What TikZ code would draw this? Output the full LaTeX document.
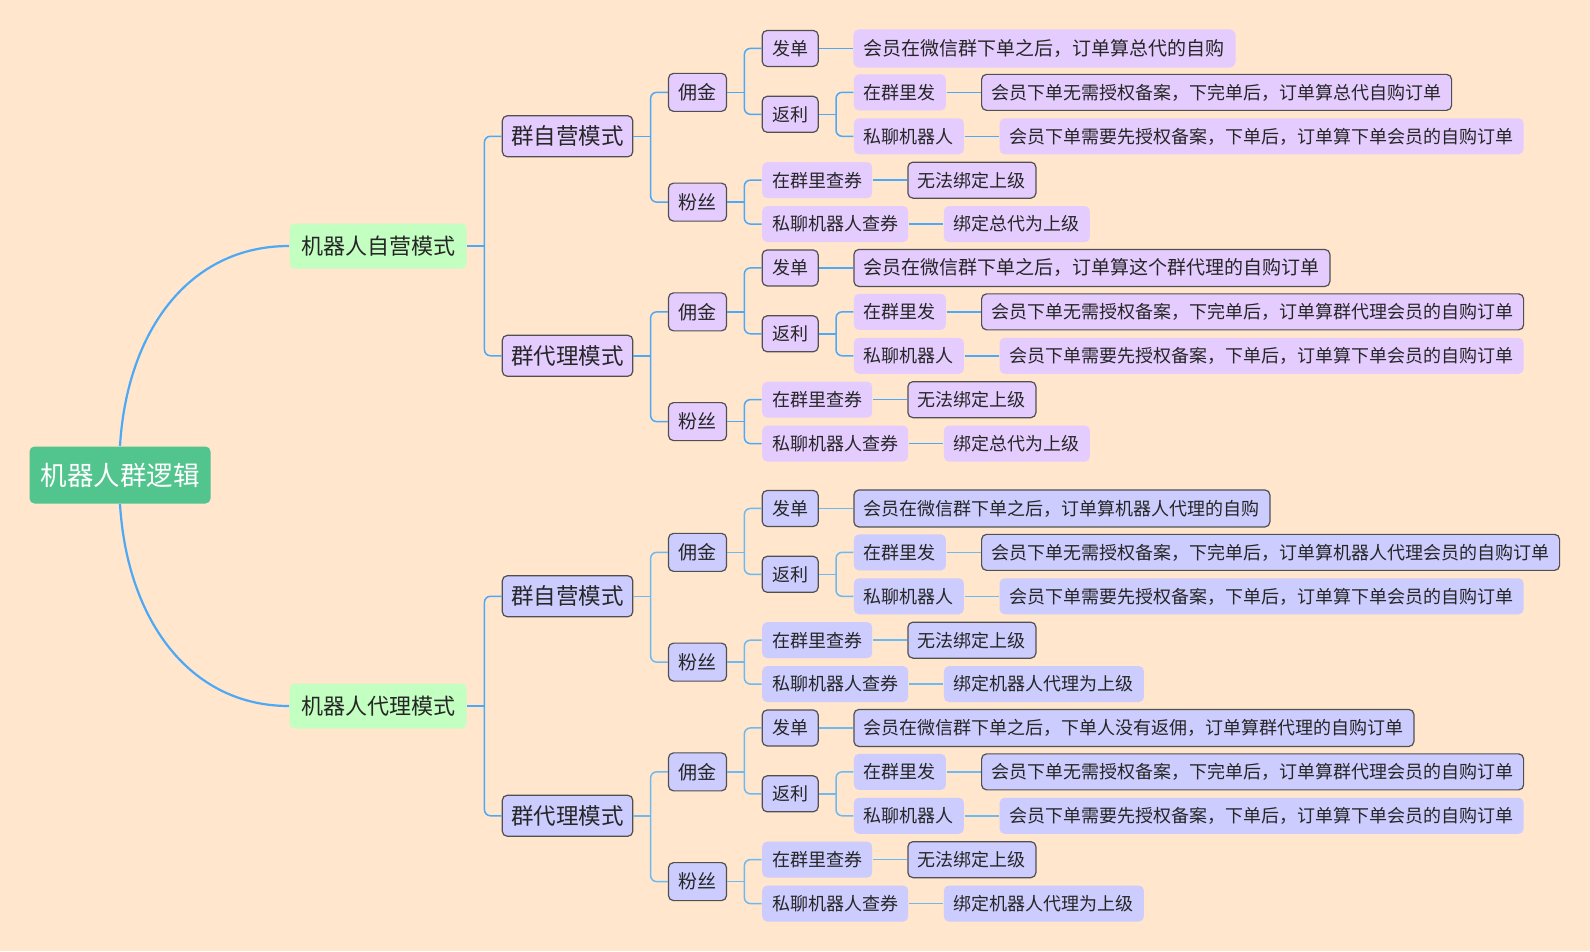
\documentclass[tikz,border=0pt]{standalone}
\usepackage{fontspec}
\setmainfont{Noto Sans CJK SC}
\usepackage{tikz}
\usetikzlibrary{positioning}
\definecolor{PageBg}{RGB}{255,230,204}
\definecolor{RootGreen}{RGB}{82,196,141}
\definecolor{ModeGreen}{RGB}{196,255,194}
\definecolor{Lilac}{RGB}{229,204,255}
\definecolor{Periwinkle}{RGB}{204,204,255}
\definecolor{Edge}{RGB}{80,80,80}
\definecolor{InkDark}{RGB}{38,38,38}
\definecolor{LinkTop}{RGB}{77,168,245}
\definecolor{LinkBot}{RGB}{110,185,240}

\tikzset{
	box/.style={rounded corners=5pt, text=InkDark, inner ysep=0pt,
		text depth=0pt, line width=1.2pt},
	rootbox/.style={box, fill=RootGreen, text=white, text height=20.1pt,
		font=\fontsize{26.5}{30}\selectfont, minimum height=57pt, inner xsep=11pt},
	modebox/.style={box, fill=ModeGreen, font=\fontsize{22}{26}\selectfont,
		text height=16.7pt, minimum height=45pt, inner xsep=11.5pt},
	grpbox/.style={box, draw=Edge, font=\fontsize{22.5}{26}\selectfont,
		text height=17.1pt, minimum height=41pt, inner xsep=9pt},
	kindbox/.style={box, draw=Edge, font=\fontsize{19}{22}\selectfont,
		text height=14.4pt, minimum height=38pt, inner xsep=10pt},
	itembox/.style={box, font=\fontsize{18}{21}\selectfont,
		text height=13.7pt, minimum height=36pt, inner xsep=10pt},
	link/.style={draw=#1, line width=1.5pt, rounded corners=6pt},
	trunk/.style={draw=LinkTop, line width=2.2pt},
}

\begin{document}
\begin{tikzpicture}[x=1pt, y=1pt]
	\fill[PageBg] (0,0) rectangle (1590,-951);
	\useasboundingbox (0,0) rectangle (1590,-951);
	% 根节点与两种机器人模式
	\node[rootbox] (root) at (120,-475) {机器人群逻辑};
	\node[modebox, anchor=west] (zy) at (289,-246) {机器人自营模式};
	\node[modebox, anchor=west] (dl) at (289,-706) {机器人代理模式};
	\draw[trunk] (root.north) .. controls +(7,115) and +(-100,0) .. (zy.west);
	\draw[trunk] (root.south) .. controls +(7,-115) and +(-100,0) .. (dl.west);
	% 每个群模式一块: 行距 43.9
	\foreach \b/\up/\sh/\fc/\lc/\fa/\fz/\ta/\tb/\tc/\td in {
		ts/zy/109.75pt/Lilac/LinkTop/Lilac/19/群自营模式/会员在微信群下单之后，订单算总代的自购/会员下单无需授权备案，下完单后，订单算总代自购订单/绑定总代为上级,
		ta/zy/-109.75pt/Lilac/LinkTop/Edge/19/群代理模式/会员在微信群下单之后，订单算这个群代理的自购订单/会员下单无需授权备案，下完单后，订单算群代理会员的自购订单/绑定总代为上级,
		bs/dl/109.75pt/Periwinkle/LinkBot/Edge/18/群自营模式/会员在微信群下单之后，订单算机器人代理的自购/会员下单无需授权备案，下完单后，订单算机器人代理会员的自购订单/绑定机器人代理为上级,
		ba/dl/-109.75pt/Periwinkle/LinkBot/Edge/18/群代理模式/会员在微信群下单之后，下单人没有返佣，订单算群代理的自购订单/会员下单无需授权备案，下完单后，订单算群代理会员的自购订单/绑定机器人代理为上级}{
		\node[grpbox, fill=\fc, right=34.5pt of \up, yshift=\sh] (\b-grp) {\ta};
		\node[kindbox, fill=\fc, right=34.5pt of \b-grp, yshift=43.9pt] (\b-yj) {佣金};
		\node[kindbox, fill=\fc, right=34.5pt of \b-grp, yshift=-65.85pt] (\b-fs) {粉丝};
		\node[itembox, draw=Edge, fill=\fc, right=34.5pt of \b-yj, yshift=43.9pt] (\b-fd) {发单};
		\node[itembox, draw=Edge, fill=\fc, right=34.5pt of \b-yj, yshift=-21.95pt] (\b-fl) {返利};
		\node[itembox, draw=\fa, fill=\fc, font=\fontsize{\fz}{22}\selectfont,
			minimum height=37pt, right=34.5pt of \b-fd] (\b-fdt) {\tb};
		\node[itembox, fill=\fc, right=34.5pt of \b-fl, yshift=21.95pt] (\b-qf) {在群里发};
		\node[itembox, fill=\fc, right=34.5pt of \b-fl, yshift=-21.95pt] (\b-sl) {私聊机器人};
		\node[itembox, draw=Edge, fill=\fc, right=34.5pt of \b-qf] (\b-qft) {\tc};
		\node[itembox, fill=\fc, right=34.5pt of \b-sl] (\b-slt) {会员下单需要先授权备案，下单后，订单算下单会员的自购订单};
		\node[itembox, fill=\fc, right=34.5pt of \b-fs, yshift=21.95pt] (\b-cq) {在群里查券};
		\node[itembox, fill=\fc, right=34.5pt of \b-fs, yshift=-21.95pt] (\b-sc) {私聊机器人查券};
		\node[itembox, draw=Edge, fill=\fc, right=34.5pt of \b-cq] (\b-cqt) {无法绑定上级};
		\node[itembox, fill=\fc, right=34.5pt of \b-sc] (\b-sct) {\td};
		% 分叉连线
		\draw[link=\lc] (\b-grp.east) -- ++(17.25pt,0) coordinate (\b-gbus);
		\draw[link=\lc] (\b-yj.west) -| (\b-gbus) |- (\b-fs.west);
		\draw[link=\lc] (\b-yj.east) -- ++(17.25pt,0) coordinate (\b-ybus);
		\draw[link=\lc] (\b-fd.west) -| (\b-ybus) |- (\b-fl.west);
		\draw[link=\lc] (\b-fl.east) -- ++(17.25pt,0) coordinate (\b-lbus);
		\draw[link=\lc] (\b-qf.west) -| (\b-lbus) |- (\b-sl.west);
		\draw[link=\lc] (\b-fs.east) -- ++(17.25pt,0) coordinate (\b-sbus);
		\draw[link=\lc] (\b-cq.west) -| (\b-sbus) |- (\b-sc.west);
		% 同一行的说明
		\draw[link=\lc] (\b-fd.east) -- (\b-fdt.west);
		\draw[link=\lc] (\b-qf.east) -- (\b-qft.west);
		\draw[link=\lc] (\b-sl.east) -- (\b-slt.west);
		\draw[link=\lc] (\b-cq.east) -- (\b-cqt.west);
		\draw[link=\lc] (\b-sc.east) -- (\b-sct.west);
	}
	% 模式到群模式
	\draw[link=LinkTop] (zy.east) -- ++(17.25pt,0) coordinate (zy-bus);
	\draw[link=LinkTop] (ts-grp.west) -| (zy-bus) |- (ta-grp.west);
	\draw[link=LinkTop] (dl.east) -- ++(17.25pt,0) coordinate (dl-bus);
	\draw[link=LinkTop] (bs-grp.west) -| (dl-bus) |- (ba-grp.west);
\end{tikzpicture}
\end{document}
